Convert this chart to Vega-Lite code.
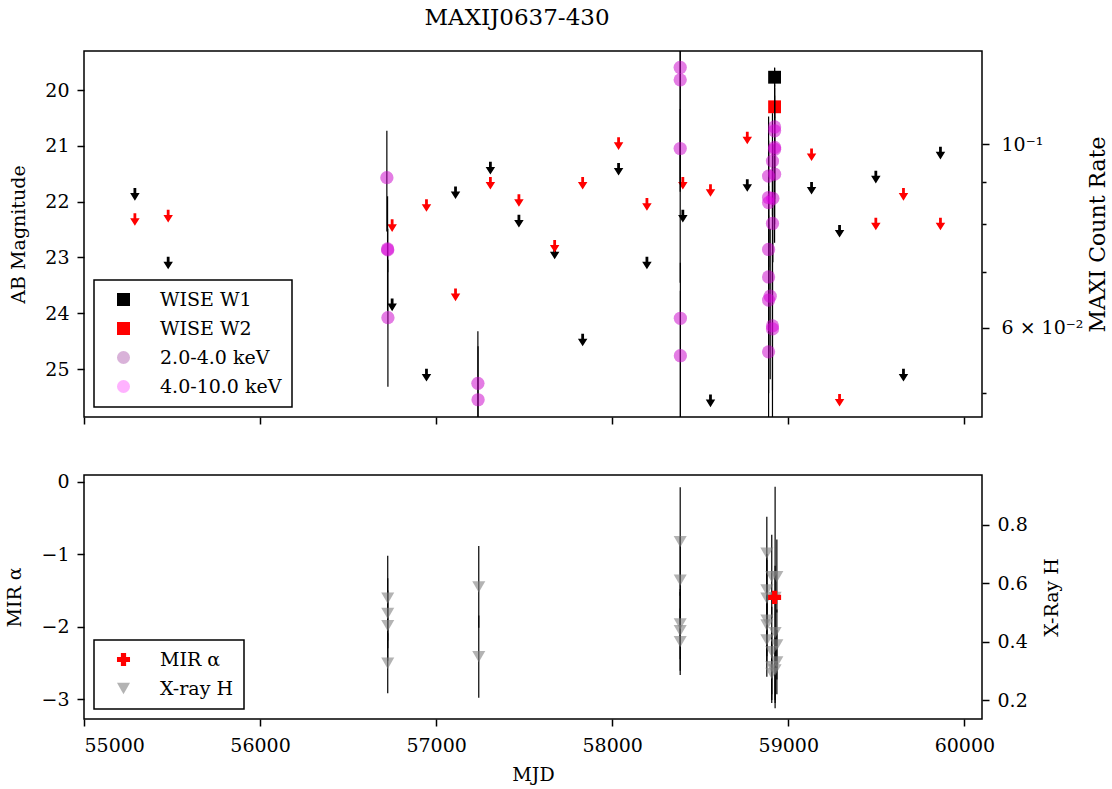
{
  "$schema": "https://vega.github.io/schema/vega-lite/v6.json",
  "background": "white",
  "padding": {"left": 5, "top": 6, "right": 2, "bottom": 5},
  "bounds": "flush",
  "spacing": 58,
  "config": {
    "font": "DejaVu Serif",
    "view": {"stroke": "black", "strokeWidth": 1.5},
    "axis": {
      "domain": false, "grid": false, "ticks": true, "tickColor": "black", "tickWidth": 1.5, "tickSize": 7,
      "labelFont": "DejaVu Serif", "labelFontSize": 19, "labelColor": "black", "labelPadding": 8,
      "titleFont": "DejaVu Serif", "titleFontSize": 19, "titleFontWeight": "normal", "titleColor": "black"
    },
    "legend": {
      "strokeColor": "black", "strokeWidth": 1.5, "fillColor": "white", "padding": 10, "cornerRadius": 0,
      "labelFont": "DejaVu Serif", "labelFontSize": 19, "labelColor": "black", "symbolSize": 170,
      "rowPadding": 9, "labelOffset": 27, "symbolOffset": 10, "offset": 10, "title": null, "symbolStrokeWidth": 0
    }
  },
  "datasets": {
    "wise_lim": [
      {"mjd": 55289, "band": "WISE W1", "mag": 21.87},
      {"mjd": 55478, "band": "WISE W1", "mag": 23.10},
      {"mjd": 56750, "band": "WISE W1", "mag": 23.85},
      {"mjd": 56945, "band": "WISE W1", "mag": 25.11},
      {"mjd": 57110, "band": "WISE W1", "mag": 21.84},
      {"mjd": 57308, "band": "WISE W1", "mag": 21.40},
      {"mjd": 57470, "band": "WISE W1", "mag": 22.35},
      {"mjd": 57673, "band": "WISE W1", "mag": 22.92},
      {"mjd": 57832, "band": "WISE W1", "mag": 24.48},
      {"mjd": 58036, "band": "WISE W1", "mag": 21.42},
      {"mjd": 58197, "band": "WISE W1", "mag": 23.10},
      {"mjd": 58401, "band": "WISE W1", "mag": 22.26},
      {"mjd": 58558, "band": "WISE W1", "mag": 25.57},
      {"mjd": 58767, "band": "WISE W1", "mag": 21.71},
      {"mjd": 59132, "band": "WISE W1", "mag": 21.76},
      {"mjd": 59291, "band": "WISE W1", "mag": 22.53},
      {"mjd": 59497, "band": "WISE W1", "mag": 21.56},
      {"mjd": 59654, "band": "WISE W1", "mag": 25.11},
      {"mjd": 59864, "band": "WISE W1", "mag": 21.13},
      {"mjd": 55289, "band": "WISE W2", "mag": 22.32},
      {"mjd": 55478, "band": "WISE W2", "mag": 22.26},
      {"mjd": 56750, "band": "WISE W2", "mag": 22.43},
      {"mjd": 56945, "band": "WISE W2", "mag": 22.07},
      {"mjd": 57110, "band": "WISE W2", "mag": 23.67},
      {"mjd": 57308, "band": "WISE W2", "mag": 21.67},
      {"mjd": 57470, "band": "WISE W2", "mag": 21.98},
      {"mjd": 57673, "band": "WISE W2", "mag": 22.80},
      {"mjd": 57832, "band": "WISE W2", "mag": 21.67},
      {"mjd": 58036, "band": "WISE W2", "mag": 20.96},
      {"mjd": 58197, "band": "WISE W2", "mag": 22.05},
      {"mjd": 58401, "band": "WISE W2", "mag": 21.67},
      {"mjd": 58558, "band": "WISE W2", "mag": 21.80},
      {"mjd": 58767, "band": "WISE W2", "mag": 20.86},
      {"mjd": 59132, "band": "WISE W2", "mag": 21.16},
      {"mjd": 59291, "band": "WISE W2", "mag": 25.56},
      {"mjd": 59497, "band": "WISE W2", "mag": 22.40},
      {"mjd": 59654, "band": "WISE W2", "mag": 21.87},
      {"mjd": 59864, "band": "WISE W2", "mag": 22.40}
    ],
    "wise_det": [
      {"mjd": 58922, "band": "WISE W1", "mag": 19.77, "lo": 19.60, "hi": 19.94},
      {"mjd": 58922, "band": "WISE W2", "mag": 20.30, "lo": 20.10, "hi": 20.50}
    ],
    "maxi": [
      {"mjd": 56720, "band": "2.0-4.0 keV", "rate": 0.0911, "lo": 0.0784, "hi": 0.1038},
      {"mjd": 56724, "band": "2.0-4.0 keV", "rate": 0.0747, "lo": 0.0629, "hi": 0.0865},
      {"mjd": 56725, "band": "2.0-4.0 keV", "rate": 0.0745, "lo": 0.0700, "hi": 0.0790},
      {"mjd": 56726, "band": "2.0-4.0 keV", "rate": 0.0617, "lo": 0.0509, "hi": 0.0725},
      {"mjd": 57237, "band": "2.0-4.0 keV", "rate": 0.0514, "lo": 0.0434, "hi": 0.0594},
      {"mjd": 57238, "band": "2.0-4.0 keV", "rate": 0.0491, "lo": 0.0410, "hi": 0.0570},
      {"mjd": 58386, "band": "2.0-4.0 keV", "rate": 0.1238, "lo": 0.0680, "hi": 0.1800},
      {"mjd": 58386, "band": "2.0-4.0 keV", "rate": 0.1196, "lo": 0.0900, "hi": 0.1500},
      {"mjd": 58386, "band": "2.0-4.0 keV", "rate": 0.0988, "lo": 0.0876, "hi": 0.1103},
      {"mjd": 58387, "band": "2.0-4.0 keV", "rate": 0.0616, "lo": 0.0440, "hi": 0.0719},
      {"mjd": 58387, "band": "2.0-4.0 keV", "rate": 0.0555, "lo": 0.0400, "hi": 0.0665},
      {"mjd": 58922, "band": "2.0-4.0 keV", "rate": 0.1049, "lo": 0.0859, "hi": 0.1237},
      {"mjd": 58922, "band": "2.0-4.0 keV", "rate": 0.1038, "lo": 0.0900, "hi": 0.1180},
      {"mjd": 58922, "band": "2.0-4.0 keV", "rate": 0.0991, "lo": 0.0850, "hi": 0.1130},
      {"mjd": 58922, "band": "2.0-4.0 keV", "rate": 0.0986, "lo": 0.0800, "hi": 0.1170},
      {"mjd": 58910, "band": "2.0-4.0 keV", "rate": 0.0954, "lo": 0.0820, "hi": 0.1090},
      {"mjd": 58888, "band": "2.0-4.0 keV", "rate": 0.0915, "lo": 0.0750, "hi": 0.1080},
      {"mjd": 58922, "band": "2.0-4.0 keV", "rate": 0.0920, "lo": 0.0760, "hi": 0.1080},
      {"mjd": 58888, "band": "2.0-4.0 keV", "rate": 0.0862, "lo": 0.0710, "hi": 0.1010},
      {"mjd": 58912, "band": "2.0-4.0 keV", "rate": 0.0860, "lo": 0.0720, "hi": 0.1000},
      {"mjd": 58888, "band": "2.0-4.0 keV", "rate": 0.0850, "lo": 0.0700, "hi": 0.1000},
      {"mjd": 58910, "band": "2.0-4.0 keV", "rate": 0.0802, "lo": 0.0660, "hi": 0.0940},
      {"mjd": 58888, "band": "2.0-4.0 keV", "rate": 0.0746, "lo": 0.0600, "hi": 0.0890},
      {"mjd": 58888, "band": "2.0-4.0 keV", "rate": 0.0691, "lo": 0.0560, "hi": 0.0820},
      {"mjd": 58897, "band": "2.0-4.0 keV", "rate": 0.0655, "lo": 0.0520, "hi": 0.0790},
      {"mjd": 58888, "band": "2.0-4.0 keV", "rate": 0.0648, "lo": 0.0500, "hi": 0.0800},
      {"mjd": 58910, "band": "2.0-4.0 keV", "rate": 0.0603, "lo": 0.0504, "hi": 0.0702},
      {"mjd": 58910, "band": "2.0-4.0 keV", "rate": 0.0598, "lo": 0.0460, "hi": 0.0740},
      {"mjd": 58888, "band": "2.0-4.0 keV", "rate": 0.0561, "lo": 0.0440, "hi": 0.0680},
      {"mjd": 56720, "band": "4.0-10.0 keV", "rate": 0.0911, "lo": 0.0784, "hi": 0.1038},
      {"mjd": 56724, "band": "4.0-10.0 keV", "rate": 0.0747, "lo": 0.0629, "hi": 0.0865},
      {"mjd": 56725, "band": "4.0-10.0 keV", "rate": 0.0745, "lo": 0.0700, "hi": 0.0790},
      {"mjd": 56726, "band": "4.0-10.0 keV", "rate": 0.0617, "lo": 0.0509, "hi": 0.0725},
      {"mjd": 57237, "band": "4.0-10.0 keV", "rate": 0.0514, "lo": 0.0434, "hi": 0.0594},
      {"mjd": 57238, "band": "4.0-10.0 keV", "rate": 0.0491, "lo": 0.0410, "hi": 0.0570},
      {"mjd": 58386, "band": "4.0-10.0 keV", "rate": 0.1238, "lo": 0.0680, "hi": 0.1800},
      {"mjd": 58386, "band": "4.0-10.0 keV", "rate": 0.1196, "lo": 0.0900, "hi": 0.1500},
      {"mjd": 58386, "band": "4.0-10.0 keV", "rate": 0.0988, "lo": 0.0876, "hi": 0.1103},
      {"mjd": 58387, "band": "4.0-10.0 keV", "rate": 0.0616, "lo": 0.0440, "hi": 0.0719},
      {"mjd": 58387, "band": "4.0-10.0 keV", "rate": 0.0555, "lo": 0.0400, "hi": 0.0665},
      {"mjd": 58922, "band": "4.0-10.0 keV", "rate": 0.1049, "lo": 0.0859, "hi": 0.1237},
      {"mjd": 58922, "band": "4.0-10.0 keV", "rate": 0.1038, "lo": 0.0900, "hi": 0.1180},
      {"mjd": 58922, "band": "4.0-10.0 keV", "rate": 0.0991, "lo": 0.0850, "hi": 0.1130},
      {"mjd": 58922, "band": "4.0-10.0 keV", "rate": 0.0986, "lo": 0.0800, "hi": 0.1170},
      {"mjd": 58910, "band": "4.0-10.0 keV", "rate": 0.0954, "lo": 0.0820, "hi": 0.1090},
      {"mjd": 58888, "band": "4.0-10.0 keV", "rate": 0.0915, "lo": 0.0750, "hi": 0.1080},
      {"mjd": 58922, "band": "4.0-10.0 keV", "rate": 0.0920, "lo": 0.0760, "hi": 0.1080},
      {"mjd": 58888, "band": "4.0-10.0 keV", "rate": 0.0862, "lo": 0.0710, "hi": 0.1010},
      {"mjd": 58912, "band": "4.0-10.0 keV", "rate": 0.0860, "lo": 0.0720, "hi": 0.1000},
      {"mjd": 58888, "band": "4.0-10.0 keV", "rate": 0.0850, "lo": 0.0700, "hi": 0.1000},
      {"mjd": 58910, "band": "4.0-10.0 keV", "rate": 0.0802, "lo": 0.0660, "hi": 0.0940},
      {"mjd": 58888, "band": "4.0-10.0 keV", "rate": 0.0746, "lo": 0.0600, "hi": 0.0890},
      {"mjd": 58888, "band": "4.0-10.0 keV", "rate": 0.0691, "lo": 0.0560, "hi": 0.0820},
      {"mjd": 58897, "band": "4.0-10.0 keV", "rate": 0.0655, "lo": 0.0520, "hi": 0.0790},
      {"mjd": 58888, "band": "4.0-10.0 keV", "rate": 0.0648, "lo": 0.0500, "hi": 0.0800},
      {"mjd": 58910, "band": "4.0-10.0 keV", "rate": 0.0603, "lo": 0.0504, "hi": 0.0702},
      {"mjd": 58910, "band": "4.0-10.0 keV", "rate": 0.0598, "lo": 0.0460, "hi": 0.0740},
      {"mjd": 58888, "band": "4.0-10.0 keV", "rate": 0.0561, "lo": 0.0440, "hi": 0.0680}
    ],
    "hard": [
      {"mjd": 56725, "series": "X-ray H", "H": 0.549, "lo": 0.404, "hi": 0.694},
      {"mjd": 56725, "series": "X-ray H", "H": 0.497, "lo": 0.377, "hi": 0.617},
      {"mjd": 56725, "series": "X-ray H", "H": 0.455, "lo": 0.335, "hi": 0.575},
      {"mjd": 56725, "series": "X-ray H", "H": 0.326, "lo": 0.223, "hi": 0.429},
      {"mjd": 57242, "series": "X-ray H", "H": 0.588, "lo": 0.448, "hi": 0.728},
      {"mjd": 57242, "series": "X-ray H", "H": 0.349, "lo": 0.208, "hi": 0.490},
      {"mjd": 58386, "series": "X-ray H", "H": 0.743, "lo": 0.557, "hi": 0.929},
      {"mjd": 58386, "series": "X-ray H", "H": 0.611, "lo": 0.460, "hi": 0.760},
      {"mjd": 58386, "series": "X-ray H", "H": 0.461, "lo": 0.340, "hi": 0.580},
      {"mjd": 58386, "series": "X-ray H", "H": 0.438, "lo": 0.300, "hi": 0.570},
      {"mjd": 58386, "series": "X-ray H", "H": 0.400, "lo": 0.286, "hi": 0.514},
      {"mjd": 58878, "series": "X-ray H", "H": 0.703, "lo": 0.580, "hi": 0.828},
      {"mjd": 58906, "series": "X-ray H", "H": 0.623, "lo": 0.480, "hi": 0.766},
      {"mjd": 58935, "series": "X-ray H", "H": 0.623, "lo": 0.500, "hi": 0.750},
      {"mjd": 58878, "series": "X-ray H", "H": 0.577, "lo": 0.450, "hi": 0.700},
      {"mjd": 58925, "series": "X-ray H", "H": 0.552, "lo": 0.172, "hi": 0.931},
      {"mjd": 58878, "series": "X-ray H", "H": 0.549, "lo": 0.420, "hi": 0.680},
      {"mjd": 58878, "series": "X-ray H", "H": 0.474, "lo": 0.350, "hi": 0.600},
      {"mjd": 58878, "series": "X-ray H", "H": 0.457, "lo": 0.330, "hi": 0.580},
      {"mjd": 58925, "series": "X-ray H", "H": 0.431, "lo": 0.200, "hi": 0.660},
      {"mjd": 58878, "series": "X-ray H", "H": 0.406, "lo": 0.280, "hi": 0.530},
      {"mjd": 58935, "series": "X-ray H", "H": 0.389, "lo": 0.270, "hi": 0.510},
      {"mjd": 58906, "series": "X-ray H", "H": 0.366, "lo": 0.220, "hi": 0.520},
      {"mjd": 58935, "series": "X-ray H", "H": 0.331, "lo": 0.220, "hi": 0.440},
      {"mjd": 58906, "series": "X-ray H", "H": 0.314, "lo": 0.200, "hi": 0.430},
      {"mjd": 58925, "series": "X-ray H", "H": 0.303, "lo": 0.190, "hi": 0.420},
      {"mjd": 58906, "series": "X-ray H", "H": 0.291, "lo": 0.190, "hi": 0.390}
    ],
    "mir": [
      {"mjd": 58922, "series": "MIR α", "alpha": -1.595, "lo": -1.675, "hi": -1.515}
    ]
  },
  "resolve": {"scale": {"color": "independent", "shape": "independent"}},
  "vconcat": [
    {
      "width": 898,
      "height": 366,
      "title": {"text": "MAXIJ0637-430", "anchor": "middle", "dx": -16, "offset": 21, "fontSize": 23, "font": "DejaVu Serif", "fontWeight": "normal", "color": "black"},
      "layer": [
        {
          "layer": [
            {
              "data": {"name": "wise_lim"},
              "transform": [{"filter": "datum.band == 'WISE W1'"}],
              "mark": {"type": "point", "shape": "M-0.22,-1 L0.22,-1 L0.22,-0.2 L0.75,-0.2 L0,1 L-0.75,-0.2 L-0.22,-0.2 Z", "filled": true, "color": "black", "size": 160, "opacity": 1, "clip": true},
              "encoding": {
                "x": {"field": "mjd", "type": "quantitative", "scale": {"domain": [55000, 60100], "nice": false, "zero": false}, "axis": {"values": [55000, 56000, 57000, 58000, 59000, 60000], "labels": false, "title": null}},
                "y": {"field": "mag", "type": "quantitative", "scale": {"domain": [19.3, 25.86], "nice": false, "zero": false, "reverse": true}, "axis": {"orient": "left", "values": [20, 21, 22, 23, 24, 25], "format": "d", "title": "AB Magnitude", "titlePadding": 16}}
              }
            },
            {
              "data": {"name": "wise_lim"},
              "transform": [{"filter": "datum.band == 'WISE W2'"}],
              "mark": {"type": "point", "shape": "M-0.22,-1 L0.22,-1 L0.22,-0.2 L0.75,-0.2 L0,1 L-0.75,-0.2 L-0.22,-0.2 Z", "filled": true, "color": "red", "size": 160, "opacity": 1, "clip": true},
              "encoding": {
                "x": {"field": "mjd", "type": "quantitative"},
                "y": {"field": "mag", "type": "quantitative"}
              }
            },
            {
              "data": {"name": "wise_det"},
              "mark": {"type": "rule", "color": "black", "strokeWidth": 1.2, "clip": true},
              "encoding": {
                "x": {"field": "mjd", "type": "quantitative"},
                "y": {"field": "lo", "type": "quantitative"},
                "y2": {"field": "hi"}
              }
            },
            {
              "data": {"name": "wise_det"},
              "mark": {"type": "point", "filled": true, "size": 165, "opacity": 1, "clip": true},
              "encoding": {
                "x": {"field": "mjd", "type": "quantitative"},
                "y": {"field": "mag", "type": "quantitative"},
                "color": {"field": "band", "type": "nominal", "scale": {"domain": ["WISE W1", "WISE W2", "2.0-4.0 keV", "4.0-10.0 keV"], "range": ["black", "red", "rgba(128,0,128,0.3)", "rgba(255,0,255,0.3)"]}, "legend": {"orient": "bottom-left", "title": null}},
                "shape": {"field": "band", "type": "nominal", "scale": {"domain": ["WISE W1", "WISE W2", "2.0-4.0 keV", "4.0-10.0 keV"], "range": ["square", "square", "circle", "circle"]}}
              }
            }
          ]
        },
        {
          "layer": [
            {
              "data": {"name": "maxi"},
              "transform": [{"filter": "datum.band == '2.0-4.0 keV'"}],
              "mark": {"type": "rule", "color": "black", "strokeWidth": 1.2, "clip": true},
              "encoding": {
                "x": {"field": "mjd", "type": "quantitative"},
                "y": {"field": "lo", "type": "quantitative", "scale": {"type": "log", "domain": [0.0468, 0.1296], "nice": false}, "axis": {"orient": "right", "values": [0.05, 0.06, 0.07, 0.08, 0.09, 0.1], "labelExpr": "abs(datum.value - 0.1) < 1e-6 ? '10⁻¹' : (abs(datum.value - 0.06) < 1e-6 ? '6 × 10⁻²' : '')", "tickSize": {"condition": {"test": "abs(datum.value - 0.1) < 1e-6 || abs(datum.value - 0.06) < 1e-6", "value": 7}, "value": 4}, "labelPadding": 12, "title": "MAXI Count Rate", "titleFontSize": 22, "titleAngle": 270, "titleBaseline": "top", "titleAlign": "center", "titleX": 105, "titleY": 183}},
                "y2": {"field": "hi"}
              }
            },
            {
              "data": {"name": "maxi"},
              "mark": {"type": "point", "filled": true, "size": 175, "opacity": 1, "clip": true},
              "encoding": {
                "x": {"field": "mjd", "type": "quantitative"},
                "y": {"field": "rate", "type": "quantitative"},
                "color": {"field": "band", "type": "nominal"},
                "shape": {"field": "band", "type": "nominal"}
              }
            }
          ]
        }
      ],
      "resolve": {"scale": {"y": "independent"}}
    },
    {
      "width": 898,
      "height": 244,
      "layer": [
        {
          "layer": [
            {
              "data": {"name": "hard"},
              "mark": {"type": "rule", "color": "black", "strokeWidth": 1.2, "clip": true},
              "encoding": {
                "x": {"field": "mjd", "type": "quantitative", "scale": {"domain": [55000, 60100], "nice": false, "zero": false}, "axis": {"values": [55000, 56000, 57000, 58000, 59000, 60000], "format": "d", "labelPadding": 10, "title": "MJD", "titlePadding": 10}},
                "y": {"field": "lo", "type": "quantitative", "scale": {"domain": [0.135, 0.971], "nice": false, "zero": false}, "axis": {"orient": "right", "values": [0.2, 0.4, 0.6, 0.8], "format": ".1f", "title": "X-Ray H", "titleAngle": 270, "titleBaseline": "top", "titleAlign": "center", "titleX": 60, "titleY": 122}},
                "y2": {"field": "hi"}
              }
            },
            {
              "data": {"name": "hard"},
              "mark": {"type": "point", "filled": true, "size": 170, "opacity": 1, "clip": true},
              "encoding": {
                "x": {"field": "mjd", "type": "quantitative"},
                "y": {"field": "H", "type": "quantitative"},
                "color": {"field": "series", "type": "nominal", "scale": {"domain": ["MIR α", "X-ray H"], "range": ["red", "rgba(128,128,128,0.6)"]}, "legend": {"orient": "bottom-left", "title": null}},
                "shape": {"field": "series", "type": "nominal", "scale": {"domain": ["MIR α", "X-ray H"], "range": ["cross", "triangle-down"]}}
              }
            }
          ]
        },
        {
          "layer": [
            {
              "data": {"name": "mir"},
              "mark": {"type": "rule", "color": "black", "strokeWidth": 1.2, "clip": true},
              "encoding": {
                "x": {"field": "mjd", "type": "quantitative"},
                "y": {"field": "lo", "type": "quantitative", "scale": {"domain": [-3.27, 0.09], "nice": false, "zero": false}, "axis": {"orient": "left", "values": [-3, -2, -1, 0], "format": "d", "title": "MIR α", "titlePadding": 16}},
                "y2": {"field": "hi"}
              }
            },
            {
              "data": {"name": "mir"},
              "mark": {"type": "point", "filled": true, "size": 170, "opacity": 1, "clip": true},
              "encoding": {
                "x": {"field": "mjd", "type": "quantitative"},
                "y": {"field": "alpha", "type": "quantitative"},
                "color": {"field": "series", "type": "nominal"},
                "shape": {"field": "series", "type": "nominal"}
              }
            }
          ]
        }
      ],
      "resolve": {"scale": {"y": "independent"}}
    }
  ]
}
